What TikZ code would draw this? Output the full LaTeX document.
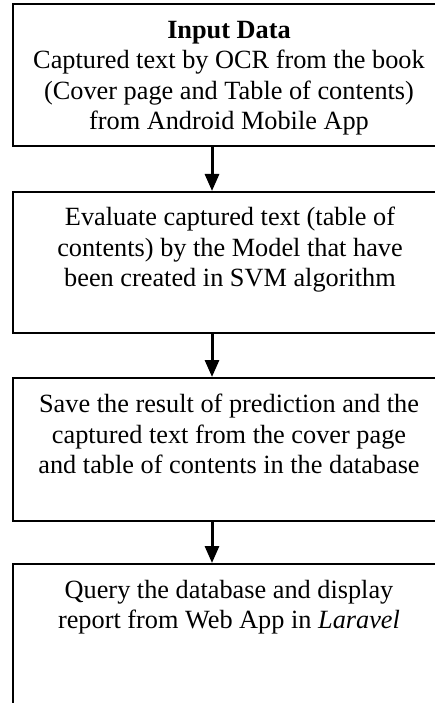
\documentclass[tikz,border=0pt]{standalone}
\usepackage{fontspec}
\setmainfont{Liberation Serif}
\usetikzlibrary{arrows.meta}
\tikzset{
  box/.style={draw, line width=2pt, rectangle, minimum width=432.5pt, inner sep=0pt},
  txt/.style={anchor=north, align=center, inner sep=0pt, font=\fontsize{26.3pt}{30.3pt}\selectfont},
  arr/.style={line width=3pt, -{Triangle[length=17pt,width=14pt]}}
}
\begin{document}
\begin{tikzpicture}[x=1pt,y=-1pt]
\useasboundingbox (0,0) rectangle (435,703);
\clip (0,0) rectangle (435,703);
\node[box, minimum height=142.5pt] (b1) at (228.75,75.25) {};
\node[box, minimum height=141pt] (b2) at (228.75,262.5) {};
\node[box, minimum height=143pt] (b3) at (228.75,449.5) {};
\node[box, minimum height=156pt] (b4) at (228.75,642) {};
\coordinate (ax) at (212,0);
\node[txt] (t1) at (229,21) {\textbf{Input Data}\\Captured text by OCR from the book\\(Cover page and Table of contents)\\from Android Mobile App};
\node[txt] (t2) at (230,207) {Evaluate captured text (table of\\contents) by the Model that have\\been created in SVM algorithm};
\node[txt] (t3) at (229,394) {Save the result of prediction and the\\captured text from the cover page\\and table of contents in the database};
\node[txt] (t4) at (229,580) {Query the database and display\\report from Web App in \textit{Laravel}};
\draw[arr] (b1.south -| ax) -- (b2.north -| ax);
\draw[arr] (b2.south -| ax) -- (b3.north -| ax);
\draw[arr] (b3.south -| ax) -- (b4.north -| ax);
\end{tikzpicture}
\end{document}
